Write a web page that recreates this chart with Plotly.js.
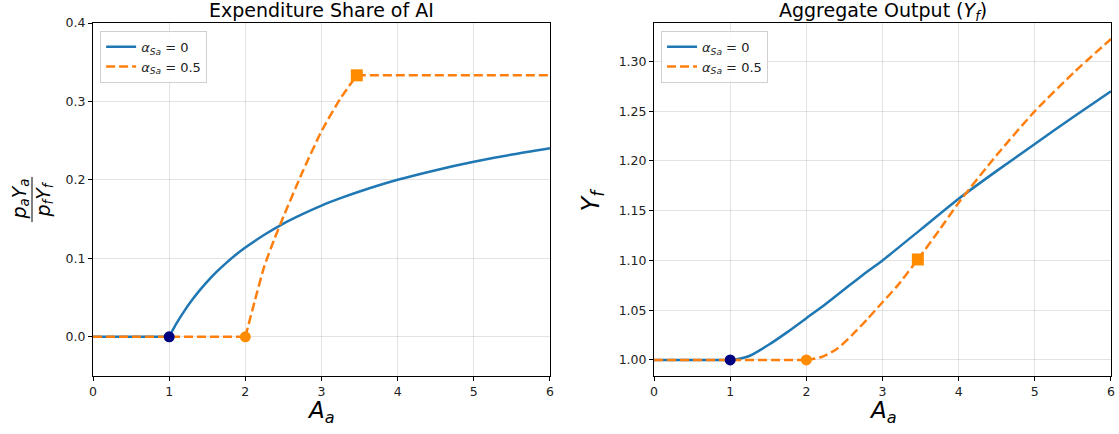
<!DOCTYPE html>
<html>
<head>
<meta charset="utf-8">
<script src="https://cdn.plot.ly/plotly-3.0.1.min.js"></script>
<style>html,body{margin:0;padding:0;background:#fff;}#chart{width:1119px;height:434px;}</style>
</head>
<body>
<div id="chart"></div>
<script>
// ---- data ----
const seriesNames = ['<i>α</i><sub><i>Sa</i></sub> = 0', '<i>α</i><sub><i>Sa</i></sub> = 0.5'];

// Left panel: expenditure share of AI
const aShare0 = [0, 1, 1.05, 1.1, 1.2, 1.3, 1.4, 1.5, 1.625, 1.75, 1.875, 2, 2.25, 2.5, 2.75, 3, 3.25, 3.5, 4, 4.5, 5, 5.5, 6];
const share0  = [0, 0, 0.009, 0.0176, 0.033, 0.0468, 0.0592, 0.0704, 0.083, 0.0942, 0.1045, 0.1137, 0.130, 0.1443, 0.1564, 0.1673, 0.1767, 0.1852, 0.2001, 0.2124, 0.2231, 0.2323, 0.2404];
const aShare05 = [0, 2, 2.125, 2.25, 2.375, 2.5, 2.75, 3, 3.25, 3.464, 6];
const share05  = [0, 0, 0.046, 0.09, 0.123, 0.153, 0.21, 0.262, 0.304, 0.3333, 0.3333];

// Right panel: aggregate output
const aY0 = [0, 1, 1.1, 1.25, 1.5, 1.75, 2, 2.25, 2.5, 2.75, 3, 3.5, 4, 4.5, 5, 5.5, 6];
const yf0 = [1, 1, 1.001, 1.004, 1.015, 1.028, 1.042, 1.056, 1.071, 1.086, 1.100, 1.131, 1.162, 1.190, 1.217, 1.244, 1.270];
const aY05 = [0, 2, 2.2, 2.4, 2.6, 2.8, 3, 3.2, 3.464, 3.75, 4, 4.5, 5, 5.5, 6];
const yf05 = [1, 1, 1.003, 1.011, 1.025, 1.041, 1.058, 1.075, 1.101, 1.131, 1.158, 1.206, 1.25, 1.288, 1.3225];

// Marked points
const entryA = [1, 2];          // entry thresholds for alpha=0 and alpha=0.5
const entryShare = [0, 0];
const entryYf = [1, 1];
const capA = [3.464];
const capShare = [0.3333];
const capYf = [1.101];

const xTicks = [0, 1, 2, 3, 4, 5, 6];
const shareTicks = [0.0, 0.1, 0.2, 0.3, 0.4];
const yfTicks = [1.00, 1.05, 1.10, 1.15, 1.20, 1.25, 1.30];

// ---- styles ----
const BLUE = '#1f77b4', ORANGE = '#ff7f0e', NAVY = '#000080', DKORANGE = '#ff8c00';
const FONT = 'DejaVu Sans, sans-serif';
const lineBlue = {color: BLUE, width: 2.5};
const lineOrange = {color: ORANGE, width: 2.5, dash: '9px,4px'};

// Split a series at the regime switches (given as x values) so curved parts
// can be smoothed while flat parts stay exactly flat.
function segments(xs, ys, breaks) {
  const out = [];
  let start = 0;
  const idx = breaks.map(b => xs.indexOf(b)).filter(i => i > 0).concat([xs.length - 1]);
  idx.forEach(end => {
    const sx = xs.slice(start, end + 1), sy = ys.slice(start, end + 1);
    const flat = sy.every(v => v === sy[0]);
    out.push({x: sx, y: sy, flat: flat});
    start = end;
  });
  return out;
}

function seriesTraces(ax, ay, legend, xs, ys, breaks, line, name, group) {
  return segments(xs, ys, breaks).map((s, k) => ({
    x: s.x, y: s.y, xaxis: ax, yaxis: ay, mode: 'lines',
    line: Object.assign({}, line, s.flat ? {shape: 'linear'} : {shape: 'spline', smoothing: 0.6}),
    name: name, legend: legend, legendgroup: group + legend, showlegend: k === 0
  }));
}

function panel(ax, ay, legend, xs0, ys0, xs5, ys5, eY, cY) {
  return [].concat(
    seriesTraces(ax, ay, legend, xs0, ys0, [entryA[0]], lineBlue, seriesNames[0], 'a0'),
    seriesTraces(ax, ay, legend, xs5, ys5, [entryA[1], capA[0]], lineOrange, seriesNames[1], 'a5'),
    [
      {x: [entryA[0]], y: [eY[0]], xaxis: ax, yaxis: ay, mode: 'markers', marker: {color: NAVY, size: 11, symbol: 'circle'}, showlegend: false},
      {x: [entryA[1]], y: [eY[1]], xaxis: ax, yaxis: ay, mode: 'markers', marker: {color: DKORANGE, size: 11, symbol: 'circle'}, showlegend: false},
      {x: capA, y: cY, xaxis: ax, yaxis: ay, mode: 'markers', marker: {color: DKORANGE, size: 12, symbol: 'square'}, showlegend: false}
    ]
  );
}

const data = [].concat(
  panel('x', 'y', 'legend', aShare0, share0, aShare05, share05, entryShare, capShare),
  panel('x2', 'y2', 'legend2', aY0, yf0, aY05, yf05, entryYf, capYf)
);

const gridColor = 'rgba(176,176,176,0.35)';
function xAxis(domain, anchor) {
  return {domain: domain, anchor: anchor, range: [0, 6], tickvals: xTicks, ticks: 'outside', ticklen: 4,
    tickcolor: '#000', showline: true, mirror: true, linecolor: '#000', linewidth: 1,
    showgrid: true, gridcolor: gridColor, gridwidth: 1, zeroline: false,
    tickfont: {family: FONT, size: 12.5, color: '#222'}};
}
function yAxis(range, ticks, fmt, anchor) {
  return {range: range, anchor: anchor, tickvals: ticks, tickformat: fmt, ticks: 'outside', ticklen: 4,
    tickcolor: '#000', showline: true, mirror: true, linecolor: '#000', linewidth: 1,
    showgrid: true, gridcolor: gridColor, gridwidth: 1, zeroline: false,
    tickfont: {family: FONT, size: 12.5, color: '#222'}};
}

const legendStyle = (x) => ({x: x, y: 0.978, xanchor: 'left', yanchor: 'top', xref: 'paper', yref: 'paper',
  bgcolor: 'rgba(255,255,255,0.85)', bordercolor: '#d0d0d0', borderwidth: 1,
  font: {family: FONT, size: 13, color: '#222'}, tracegroupgap: 0, itemwidth: 30});

const layout = {
  width: 1119, height: 434,
  margin: {l: 93, r: 8, t: 23, b: 58},
  paper_bgcolor: '#fff', plot_bgcolor: '#fff',
  font: {family: FONT, color: '#000'},
  xaxis: xAxis([0, 0.4489], 'y'),
  yaxis: yAxis([-0.05, 0.4], shareTicks, '.1f', 'x'),
  xaxis2: xAxis([0.5511, 1], 'y2'),
  yaxis2: yAxis([0.9839, 1.3386], yfTicks, '.2f', 'x2'),
  legend: legendStyle(0.007),
  legend2: legendStyle(0.558),
  showlegend: true,
  annotations: [
    {text: 'Expenditure Share of AI', xref: 'x domain', yref: 'y domain', x: 0.5, y: 1, yanchor: 'middle', yshift: 13, showarrow: false, font: {family: FONT, size: 19, color: '#000'}},
    {text: 'Aggregate Output (<i>Y</i><sub><i>f</i></sub>)', xref: 'x2 domain', yref: 'y2 domain', x: 0.5, y: 1, yanchor: 'middle', yshift: 12, showarrow: false, font: {family: FONT, size: 19, color: '#000'}},
    {text: '<i>A</i><sub><i>a</i></sub>', xref: 'x domain', yref: 'y domain', x: 0.5, y: 0, yanchor: 'middle', yshift: -36, showarrow: false, font: {family: FONT, size: 23, color: '#000'}},
    {text: '<i>A</i><sub><i>a</i></sub>', xref: 'x2 domain', yref: 'y2 domain', x: 0.5, y: 0, yanchor: 'middle', yshift: -36, showarrow: false, font: {family: FONT, size: 23, color: '#000'}},
    {text: '<i>Y</i><sub><i>f</i></sub>', xref: 'x2 domain', yref: 'y2 domain', x: 0, y: 0.5, xanchor: 'center', yanchor: 'middle', xshift: -62, textangle: -90, showarrow: false, font: {family: FONT, size: 24, color: '#000'}},
    {text: '<i>p</i><sub><i>a</i></sub><i>Y</i><sub><i>a</i></sub>', xref: 'x domain', yref: 'y domain', x: 0, y: 0.5, xanchor: 'center', yanchor: 'middle', xshift: -73, textangle: -90, showarrow: false, font: {family: FONT, size: 19, color: '#000'}},
    {text: '<i>p</i><sub><i>f</i></sub><i>Y</i><sub><i>f</i></sub>', xref: 'x domain', yref: 'y domain', x: 0, y: 0.5, xanchor: 'center', yanchor: 'middle', xshift: -49, textangle: -90, showarrow: false, font: {family: FONT, size: 19, color: '#000'}}
  ],
  shapes: [
    {type: 'line', xref: 'x domain', yref: 'y domain', xsizemode: 'pixel', xanchor: 0, x0: -61, x1: -61, y0: 0.436, y1: 0.564, line: {color: '#000', width: 1}}
  ]
};

Plotly.newPlot('chart', data, layout, {staticPlot: true, displayModeBar: false});
</script>
</body>
</html>
